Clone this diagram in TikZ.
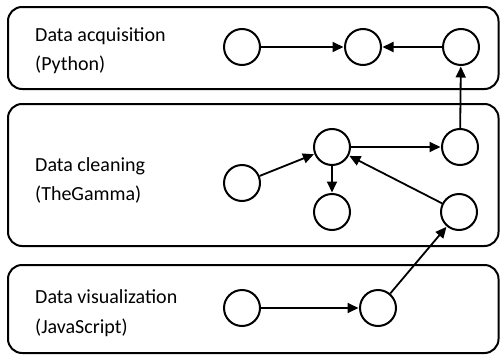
\documentclass[tikz,border=0pt]{standalone}
\usepackage{fontspec}
\setmainfont{Carlito}
\usetikzlibrary{arrows.meta}
\begin{document}
\begin{tikzpicture}[x=1pt,y=-1pt,
  layer/.style={draw,line width=2pt,rounded corners=14pt},
  st/.style={draw,circle,line width=2pt,minimum size=36pt,inner sep=0pt},
  lbl/.style={anchor=west,align=left,inner sep=0pt,font=\fontsize{20}{29.5}\selectfont},
  arr/.style={line width=1.8pt,-{Triangle[length=11pt,width=10pt]},shorten >=0.5pt}]
\useasboundingbox (0,0) rectangle (500,356);
\draw[layer] (8,7) rectangle (498.5,89);
\draw[layer] (8,104) rectangle (498.5,246);
\draw[layer] (8,265) rectangle (498.5,353);
\node[lbl] (t1) at (35,50.5) {Data acquisition\\(Python)};
\node[lbl] (t2) at (35,180.5) {Data cleaning\\(TheGamma)};
\node[lbl] (t3) at (35,313) {Data visualization\\(JavaScript)};
\node[st] (a1) at (242,47) {};
\node[st] (a2) at (363,47) {};
\node[st] (a3) at (461,47) {};
\node[st] (c1) at (242,183) {};
\node[st] (c2) at (332,147) {};
\node[st] (c3) at (460,147) {};
\node[st] (c4) at (332,212) {};
\node[st] (c5) at (459,212) {};
\node[st] (v1) at (242,308) {};
\node[st] (v2) at (378,308) {};
\draw[arr] (a1) -- (a2);
\draw[arr] (a3) -- (a2);
\draw[arr] (c3) -- (a3);
\draw[arr] (c1) -- (c2);
\draw[arr] (c2) -- (c3);
\draw[arr] (c2) -- (c4);
\draw[arr] (c5) -- (c2);
\draw[arr] (v1) -- (v2);
\draw[arr] (v2) -- (c5);
\end{tikzpicture}
\end{document}
